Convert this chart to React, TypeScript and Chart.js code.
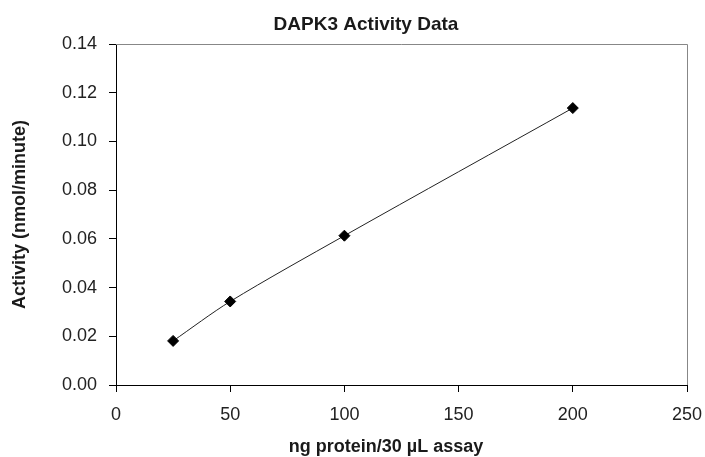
import React, { useEffect, useRef } from "react";
import { Chart, registerables } from "chart.js";

Chart.register(...registerables);

const chartTitle = "DAPK3 Activity Data";
const xTitle = "ng protein/30 µL assay";
const yTitle = "Activity (nmol/minute)";
const proteinNg = [25, 50, 100, 200];
const activity = [0.0181, 0.0343, 0.0613, 0.1137];
const xMin = 0, xMax = 250, xStep = 50;
const yMin = 0, yMax = 0.14, yStep = 0.02;

const FONT = '"Liberation Sans", Arial, sans-serif';

const decorPlugin = {
  id: "decor",
  afterDraw(chart: any) {
    const { ctx, chartArea } = chart;
    const { left, right, top, bottom } = chartArea;
    ctx.save();
    ctx.strokeStyle = "#878787";
    ctx.lineWidth = 1;
    ctx.beginPath();
    ctx.moveTo(left, top + 0.5);
    ctx.lineTo(right + 0.5, top + 0.5);
    ctx.lineTo(right + 0.5, bottom);
    ctx.stroke();

    ctx.fillStyle = "#1a1a1a";
    ctx.textAlign = "center";
    ctx.textBaseline = "alphabetic";
    ctx.font = `bold 19px ${FONT}`;
    ctx.fillText(chartTitle, 366, 30);
    ctx.font = `bold 18px ${FONT}`;
    ctx.fillText(xTitle, 386, 452);
    ctx.restore();
  },
};

export default function App() {
  const ref = useRef<HTMLCanvasElement>(null);

  useEffect(() => {
    if (!ref.current) return;
    const chart = new Chart(ref.current, {
      type: "line",
      data: {
        datasets: [
          {
            label: "Activity",
            data: proteinNg.map((x, i) => ({ x, y: activity[i] })),
            borderColor: "#222",
            borderWidth: 1,
            tension: 0.3,
            pointStyle: "rectRot",
            pointRadius: 5.5,
            pointBackgroundColor: "#000",
            pointBorderColor: "#000",
            pointBorderWidth: 1,
            fill: false,
          },
        ],
      },
      options: {
        responsive: false,
        animation: false,
        layout: { padding: { top: 44, right: 18, left: 0, bottom: 0 } },
        plugins: {
          legend: { display: false },
          title: { display: false },
          tooltip: { enabled: false },
        },
        scales: {
          x: {
            type: "linear",
            min: xMin,
            max: xMax,
            afterFit: (s: any) => {
              s.height = 72;
              s.paddingLeft = 0;
              s.paddingRight = 0;
            },
            ticks: {
              stepSize: xStep,
              color: "#222",
              font: { family: FONT, size: 18 },
              padding: 12,
              maxRotation: 0,
            },
            grid: {
              display: true,
              drawOnChartArea: false,
              drawTicks: true,
              tickLength: 7,
              color: "#000",
            },
            border: { display: true, color: "#000", width: 1 },
            title: { display: false },
          },
          y: {
            type: "linear",
            min: yMin,
            max: yMax,
            afterFit: (s: any) => {
              s.width = 116;
              s.paddingTop = 0;
              s.paddingBottom = 0;
            },
            ticks: {
              stepSize: yStep,
              color: "#222",
              font: { family: FONT, size: 18 },
              padding: 12,
              callback: (v: any) => Number(v).toFixed(2),
            },
            grid: {
              display: true,
              drawOnChartArea: false,
              drawTicks: true,
              tickLength: 7,
              color: "#000",
            },
            border: { display: true, color: "#000", width: 1 },
            title: {
              display: true,
              text: yTitle,
              color: "#1a1a1a",
              font: { family: FONT, size: 18, weight: "bold" },
              padding: { top: 9, bottom: 0 },
            },
          },
        },
      },
      plugins: [decorPlugin],
    });
    return () => chart.destroy();
  }, []);

  return (
    <div style={{ position: "absolute", left: 0, top: 0, width: 705, height: 457, background: "#fff" }}>
      <canvas ref={ref} width={705} height={457} style={{ display: "block" }} />
    </div>
  );
}
